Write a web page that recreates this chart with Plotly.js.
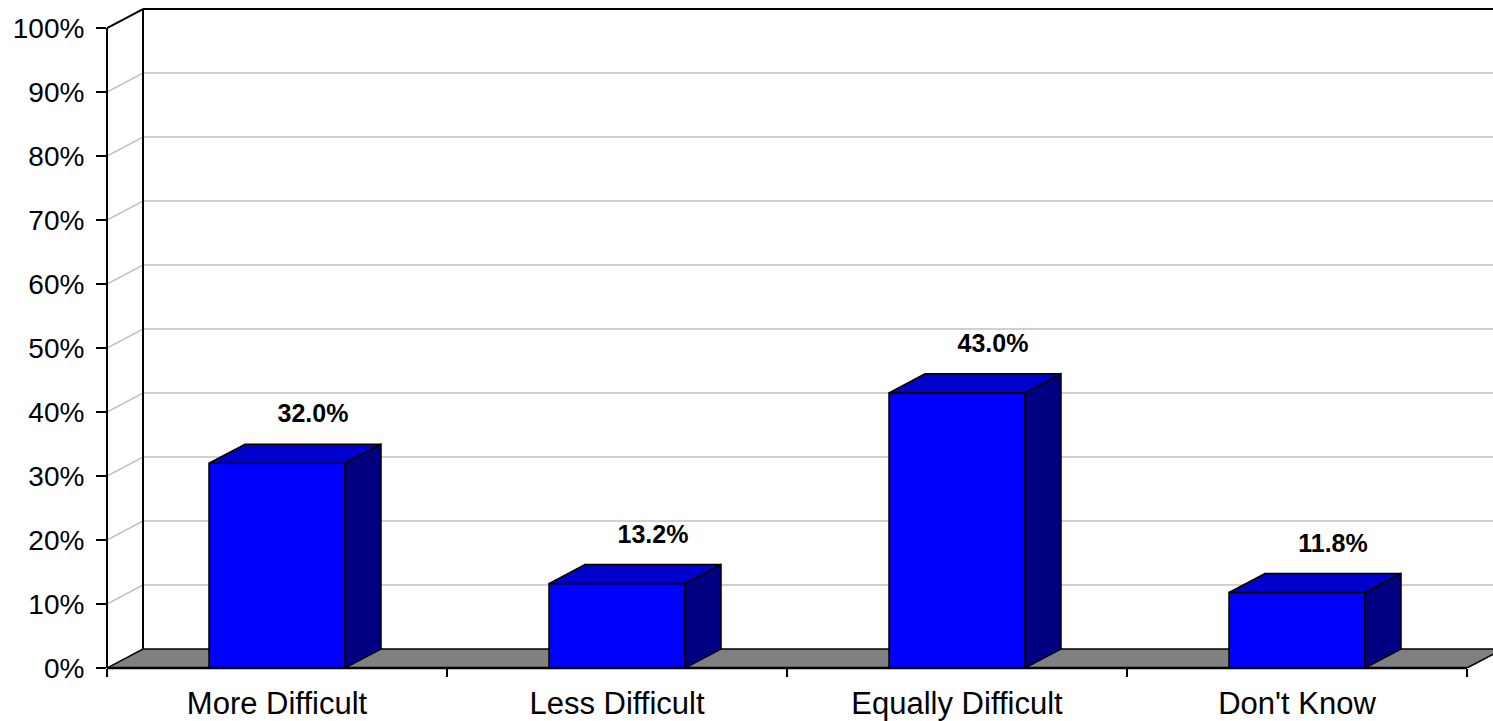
<!DOCTYPE html>
<html>
<head>
<meta charset="utf-8">
<script src="https://cdn.plot.ly/plotly-3.0.1.min.js"></script>
<style>
  html, body { margin: 0; padding: 0; overflow: hidden; background: #ffffff; }
  #chart { width: 1540px; height: 721px; }
</style>
</head>
<body>
<div id="chart"></div>
<script>
// ---- Data ----
const categories = ["More Difficult", "Less Difficult", "Equally Difficult", "Don't Know"];
const values = [32.0, 13.2, 43.0, 11.8];
const yTickValues = [0, 10, 20, 30, 40, 50, 60, 70, 80, 90, 100];
const yTickLabels = ["0%", "10%", "20%", "30%", "40%", "50%", "60%", "70%", "80%", "90%", "100%"];

// ---- 3D look parameters (depth offsets in axis units) ----
const DX = 36 / 340;   // depth offset in x units
const DY = 19 / 6.4;   // depth offset in y units
const HALF = 0.2;      // half bar width
const xs = categories.map((_, i) => i);
const xMin = -0.5, xMax = categories.length - 0.5;
const yTop = yTickValues[yTickValues.length - 1];

// ---- Shapes: walls, gridlines, floor ----
const shapes = [];
yTickValues.forEach(v => {
  if (v === 0) return;
  const col = v === yTop ? "#000000" : "#C0C0C0";
  const w = v === yTop ? 2 : 1.5;
  shapes.push({type: "line", layer: "below", xref: "x", yref: "y",
    x0: xMin, y0: v, x1: xMin + DX, y1: v + DY, line: {color: col, width: w}});
  shapes.push({type: "line", layer: "below", xref: "x", yref: "y",
    x0: xMin + DX, y0: v + DY, x1: xMax + DX + 1, y1: v + DY, line: {color: col, width: w}});
});
shapes.push({type: "line", layer: "below", xref: "x", yref: "y",
  x0: xMin + DX, y0: DY, x1: xMin + DX, y1: yTop + DY, line: {color: "#000000", width: 2}});
shapes.push({type: "path", layer: "below", xref: "x", yref: "y",
  path: `M ${xMin} 0 L ${xMax} 0 L ${xMax + DX} ${DY} L ${xMin + DX} ${DY} Z`,
  fillcolor: "#808080", line: {color: "#000000", width: 1.5}});
shapes.push({type: "line", xref: "x", yref: "paper",
  x0: xMin, y0: 0, x1: xMax, y1: 0, line: {color: "#000000", width: 2.5}});
shapes.push({type: "line", xref: "paper", yref: "y",
  x0: 0, y0: 0, x1: 0, y1: yTop, line: {color: "#000000", width: 2}});

// ---- Traces ----
const traces = [];
traces.push({
  type: "bar", x: xs, y: values, width: 2 * HALF,
  marker: {color: "#0000FF", line: {color: "#000000", width: 1.5}},
  hoverinfo: "skip", showlegend: false
});
xs.forEach((x, i) => {
  const v = values[i];
  traces.push({
    type: "scatter", mode: "lines", fill: "toself",
    x: [x - HALF, x + HALF, x + HALF + DX, x - HALF + DX, x - HALF],
    y: [v, v, v + DY, v + DY, v],
    fillcolor: "#0000CC", line: {color: "#000000", width: 1.5},
    hoverinfo: "skip", showlegend: false
  });
  traces.push({
    type: "scatter", mode: "lines", fill: "toself",
    x: [x + HALF, x + HALF + DX, x + HALF + DX, x + HALF, x + HALF],
    y: [0, DY, v + DY, v, 0],
    fillcolor: "#000080", line: {color: "#000000", width: 1.5},
    hoverinfo: "skip", showlegend: false
  });
});
traces.push({
  type: "scatter", mode: "text",
  x: xs.map(x => x + DX),
  y: values.map(v => v + DY + 4.4),
  text: values.map(v => v.toFixed(1) + "%"),
  textposition: "middle center",
  textfont: {family: "Liberation Sans, Arial, sans-serif", size: 25, color: "#000000", weight: "bold"},
  cliponaxis: false, hoverinfo: "skip", showlegend: false
});

const layout = {
  width: 1540, height: 721,
  margin: {l: 107, r: 5, t: 7, b: 53},
  paper_bgcolor: "#ffffff", plot_bgcolor: "#ffffff",
  showlegend: false,
  xaxis: {
    range: [xMin, xMax + 0.2], tickmode: "array", tickvals: xs, ticktext: categories,
    ticks: "", showgrid: false, zeroline: false, showline: false, fixedrange: true,
    ticklabelstandoff: 14,
    tickfont: {family: "Liberation Sans, Arial, sans-serif", size: 31, color: "#000000"},
    minor: {tickmode: "array", tickvals: [-0.5, 0.5, 1.5, 2.5, 3.5], ticks: "outside",
            ticklen: 8, tickwidth: 1.5, tickcolor: "#000000", showgrid: false}
  },
  yaxis: {
    range: [0, 103.3], tickmode: "array", tickvals: yTickValues, ticktext: yTickLabels,
    ticks: "outside", ticklen: 10, tickwidth: 1.5, tickcolor: "#000000",
    showgrid: false, zeroline: false, showline: false, fixedrange: true,
    ticklabelstandoff: 6,
    tickfont: {family: "Liberation Sans, Arial, sans-serif", size: 28, color: "#000000"}
  },
  shapes: shapes
};

Plotly.newPlot("chart", traces, layout, {displayModeBar: false, staticPlot: true});
</script>
</body>
</html>
